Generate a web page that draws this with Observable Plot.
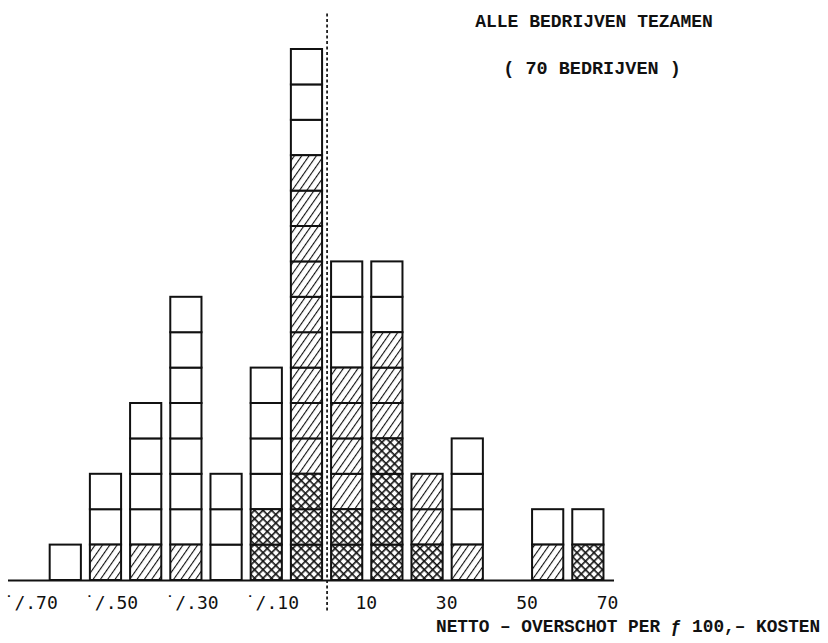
<!DOCTYPE html>
<html>
<head>
<meta charset="utf-8">
<script src="https://cdn.jsdelivr.net/npm/d3@7"></script>
<script src="https://cdn.jsdelivr.net/npm/@observablehq/plot@0.6"></script>
<style>
  html, body { margin: 0; padding: 0; background: #fff; }
  #wrap { position: relative; width: 828px; height: 643px; overflow: hidden; }
  .t { position: absolute; font-family: "Liberation Mono", "DejaVu Sans Mono", monospace; color: #111; white-space: pre; }
  #title1 { left: 0; width: 1188px; text-align: center; top: 12px; font-size: 18px; font-weight: bold; }
  #title2 { left: 0; width: 1184px; text-align: center; top: 59px; font-size: 18.5px; font-weight: bold; }
  #xlabel { left: 436px; top: 617px; font-size: 17.8px; font-weight: bold; }
</style>
</head>
<body>
<div id="wrap">
  <div id="chart"></div>
  <div class="t" id="title1">ALLE BEDRIJVEN TEZAMEN</div>
  <div class="t" id="title2">( 70 BEDRIJVEN )</div>
  <div class="t" id="xlabel">NETTO – OVERSCHOT PER ƒ 100,– KOSTEN</div>
</div>
<script>
// Class lower bounds (netto-overschot per f 100,- kosten)
const binStart   = [-70, -60, -50, -40, -30, -20, -10, 0, 10, 20, 30, 50, 60];
const binWidth   = 10;
// Number of companies per class, by category (stacked bottom to top)
const crossCount = [0, 0, 0, 0, 0, 2, 3, 2, 4, 1, 0, 0, 1];
const hatchCount = [0, 1, 1, 1, 0, 0, 9, 4, 3, 2, 1, 1, 0];
const blankCount = [1, 2, 4, 7, 3, 4, 3, 3, 2, 0, 3, 1, 1];
// Tick labels
const negTicks  = [-70, -50, -30, -10];
const negLabels = ["˙/.70", "˙/.50", "˙/.30", "˙/.10"];
const posTicks  = [10, 30, 50, 70];
const posLabels = ["10", "30", "50", "70"];
const zeroLine = 0;

// one unit square per company
const cells = [];
binStart.forEach((b, i) => {
  let k = 0;
  const push = (n, kind) => { for (let j = 0; j < n; j++, k++) cells.push({x1: b, x2: b + binWidth, y1: k, y2: k + 1, kind}); };
  push(crossCount[i], "cross");
  push(hatchCount[i], "hatch");
  push(blankCount[i], "blank");
});

const tickFont = "DejaVu Sans Mono";
const rectOpts = {x1: "x1", x2: "x2", y1: "y1", y2: "y2", insetLeft: 4.5, insetRight: 4.5, stroke: "#111", strokeWidth: 2};

const plot = Plot.plot({
  width: 828,
  height: 643,
  marginLeft: 8,
  marginRight: 214,
  marginTop: 13.6,
  marginBottom: 63,
  x: {domain: [-79.25, 71.5], axis: null},
  y: {domain: [0, 16], axis: null},
  style: {background: "#fff"},
  marks: [
    Plot.rect(cells.filter(d => d.kind === "blank"), {...rectOpts, fill: "white"}),
    Plot.rect(cells.filter(d => d.kind === "hatch"), {...rectOpts, fill: "url(#hatchPat)"}),
    Plot.rect(cells.filter(d => d.kind === "cross"), {...rectOpts, fill: "url(#crossPat)"}),
    Plot.ruleY([zeroLine], {stroke: "#111", strokeWidth: 2}),
    Plot.ruleX([zeroLine], {y1: 16, y2: -0.9, stroke: "#111", strokeWidth: 1.7, strokeDasharray: "3,2.5"}),
    Plot.text(negTicks, {x: d => d, y: zeroLine, text: (d, i) => negLabels[i], dx: -15, dy: 23, fontSize: 18, fontFamily: tickFont, fill: "#111"}),
    Plot.text(posTicks, {x: d => d, y: zeroLine, text: (d, i) => posLabels[i], dx: -1, dy: 23, fontSize: 18, fontFamily: tickFont, fill: "#111"})
  ]
});

// patterns
const ns = "http://www.w3.org/2000/svg";
const defs = document.createElementNS(ns, "defs");
defs.innerHTML = `
  <pattern id="hatchPat" patternUnits="userSpaceOnUse" width="6" height="6" patternTransform="rotate(35)">
    <rect width="6" height="6" fill="white"/>
    <line x1="0" y1="0" x2="0" y2="6" stroke="#111" stroke-width="2.2"/>
  </pattern>
  <pattern id="crossPat" patternUnits="userSpaceOnUse" width="6" height="6" patternTransform="rotate(45)">
    <rect width="6" height="6" fill="white"/>
    <line x1="0" y1="0" x2="0" y2="6" stroke="#111" stroke-width="3.2"/>
    <line x1="0" y1="0" x2="6" y2="0" stroke="#111" stroke-width="3.2"/>
  </pattern>`;
plot.insertBefore(defs, plot.firstChild);
document.getElementById("chart").appendChild(plot);
</script>
</body>
</html>
